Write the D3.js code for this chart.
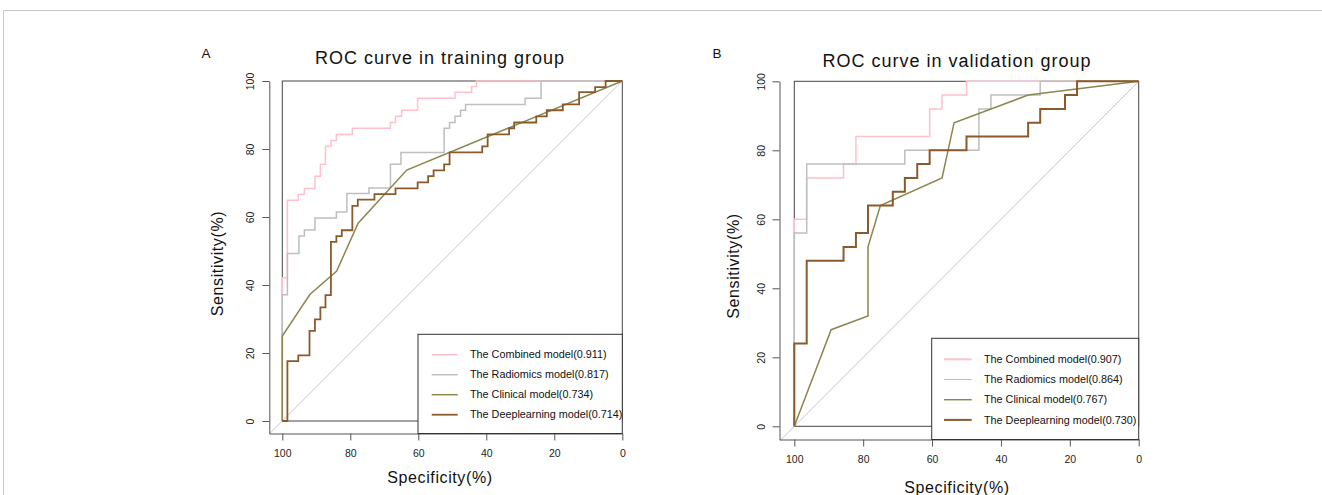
<!DOCTYPE html>
<html>
<head>
<meta charset="utf-8">
<script src="https://cdn.jsdelivr.net/npm/d3@7"></script>
<style>
  body { margin: 0; background: #fff; }
  svg { display: block; font-family: "Liberation Sans", Arial, sans-serif; }
</style>
</head>
<body>
<svg id="chart" width="1322" height="495"></svg>
<script>
// ticks shared by both panels
const specTicks = [100, 80, 60, 40, 20, 0];
const sensTicks = [0, 20, 40, 60, 80, 100];

const modelNames = ['The Combined model', 'The Radiomics model', 'The Clinical model', 'The Deeplearning model'];
const trainAuc = ['0.911', '0.817', '0.734', '0.714'];
const validAuc = ['0.907', '0.864', '0.767', '0.730'];

// training group, points are [specificity %, sensitivity %]
const trainCombined = [[100,0],[100,42.1],[98.5,42.1],[98.5,64.9],[95.3,64.9],[95.3,66.7],[93.5,66.7],[93.5,68.4],
  [90.4,68.4],[90.4,72.0],[88.8,72.0],[88.8,75.5],[87.3,75.5],[87.3,80.8],[85.7,80.8],[85.7,82.5],[84.1,82.5],
  [84.1,84.3],[79.4,84.3],[79.4,86.1],[68.2,86.1],[68.2,87.8],[66.7,87.8],[66.7,89.6],[64.9,89.6],[64.9,91.4],
  [60.2,91.4],[60.2,94.9],[49.2,94.9],[49.2,96.7],[44.3,96.7],[44.3,98.4],[42.9,98.4],[42.9,100],[0,100]];
const trainRadiomics = [[100,0],[100,37.1],[98.5,37.1],[98.5,49.3],[95.1,49.3],[95.1,54.4],[93.5,54.4],[93.5,56.2],
  [90.4,56.2],[90.4,59.7],[84.1,59.7],[84.1,61.5],[81.0,61.5],[81.0,66.9],[74.5,66.9],[74.5,68.5],[68.2,68.5],
  [68.2,75.5],[65.1,75.5],[65.1,79.0],[52.4,79.0],[52.4,86.1],[50.8,86.1],[50.8,87.8],[49.2,87.8],[49.2,89.6],
  [47.6,89.6],[47.6,91.4],[46.1,91.4],[46.1,93.1],[28.6,93.1],[28.6,94.9],[23.9,94.9],[23.9,100],[0,100]];
const trainClinical = [[100,0],[100,25.0],[91.9,37.2],[84.0,44.1],[77.7,58.2],[63.4,73.8],[0,100]];
const trainDeep = [[100,0],[98.5,0],[98.5,17.6],[95.3,17.6],[95.3,19.3],[92.0,19.3],[92.0,26.5],[90.4,26.5],
  [90.4,29.9],[88.8,29.9],[88.8,33.4],[87.3,33.4],[87.3,37.0],[85.7,37.0],[85.7,52.7],[84.1,52.7],[84.1,54.4],
  [82.5,54.4],[82.5,56.1],[79.4,56.1],[79.4,63.3],[77.8,63.3],[77.8,65.1],[72.9,65.1],[72.9,66.7],[66.7,66.7],
  [66.7,68.4],[60.2,68.4],[60.2,70.2],[57.1,70.2],[57.1,72.0],[55.5,72.0],[55.5,73.7],[52.4,73.7],[52.4,75.5],
  [50.8,75.5],[50.8,79.0],[41.2,79.0],[41.2,80.8],[39.6,80.8],[39.6,84.3],[33.3,84.3],[33.3,86.1],[31.8,86.1],
  [31.8,87.8],[25.3,87.8],[25.3,89.6],[22.2,89.6],[22.2,91.4],[17.5,91.4],[17.5,93.1],[12.7,93.1],[12.7,96.7],
  [8.0,96.7],[8.0,98.2],[4.9,98.2],[4.9,100],[0,100]];

// validation group
const validCombined = [[100,0],[100,60],[96.4,60],[96.4,72],[85.7,72],[85.7,76],[82.1,76],[82.1,84],[60.7,84],
  [60.7,92],[57.1,92],[57.1,96],[50,96],[50,100],[0,100]];
const validRadiomics = [[100,0],[100,56],[96.4,56],[96.4,76],[67.9,76],[67.9,80],[46.4,80],[46.4,92],[42.9,92],
  [42.9,96],[28.6,96],[28.6,100],[0,100]];
const validClinical = [[100,0],[89.3,28],[78.6,32],[78.6,52],[75,64],[57.1,72],[53.6,88],[32.1,96],[0,100]];
const validDeep = [[100,0],[100,24],[96.4,24],[96.4,48],[85.7,48],[85.7,52],[82.1,52],[82.1,56],[78.6,56],
  [78.6,64],[71.4,64],[71.4,68],[67.9,68],[67.9,72],[64.3,72],[64.3,76],[60.7,76],[60.7,80],[50,80],[50,84],
  [32.1,84],[32.1,88],[28.6,88],[28.6,92],[21.4,92],[21.4,96],[17.9,96],[17.9,100],[0,100]];

const modelColors = ['#ffc0cb', '#bebebe', '#8b864e', '#8b5a2b'];

class RocChart {

  constructor(_config, _curves, _auc) {
    this.config = _config;
    this.curves = _curves;
    this.auc = _auc;
    this.initVis();
  }

  initVis() {
    let vis = this;
    const c = vis.config;

    vis.svg = d3.select('#chart');
    vis.g = vis.svg.append('g');

    vis.xScale = d3.scaleLinear().domain([100, 0]).range([c.x0, c.x1]);
    vis.yScale = d3.scaleLinear().domain([0, 100]).range([c.y0, c.y1]);

    // axes start a little outside the unit square, like base R
    vis.xAxisScale = vis.xScale.copy().domain([vis.xScale.invert(c.axisX), 0]).range([c.axisX, c.x1]);
    vis.yAxisScale = vis.yScale.copy().domain([vis.yScale.invert(c.axisY), 100]).range([c.axisY, c.y1]);

    vis.renderVis();
  }

  renderVis() {
    let vis = this;
    const c = vis.config;

    // square around the data range
    vis.g.append('rect')
      .attr('x', vis.xScale(100))
      .attr('y', vis.yScale(100))
      .attr('width', vis.xScale(0) - vis.xScale(100))
      .attr('height', vis.yScale(0) - vis.yScale(100))
      .attr('fill', 'none')
      .attr('stroke', '#444')
      .attr('stroke-width', 1);

    // chance line
    const pad = vis.xScale.invert(c.axisX) - 100;
    vis.g.append('line')
      .attr('x1', vis.xScale(100 + pad)).attr('y1', vis.yScale(-pad))
      .attr('x2', vis.xScale(0)).attr('y2', vis.yScale(100))
      .attr('stroke', '#c8c8c8')
      .attr('stroke-width', 1);

    const line = d3.line()
      .x(d => vis.xScale(d[0]))
      .y(d => vis.yScale(d[1]));

    vis.g.selectAll('.roc')
      .data(vis.curves)
      .join('path')
      .attr('class', 'roc')
      .attr('d', line)
      .attr('fill', 'none')
      .attr('stroke', (d, i) => modelColors[i])
      .attr('stroke-width', (d, i) => c.widths[i]);

    // axes
    const xAxis = d3.axisBottom(vis.xAxisScale).tickValues(specTicks).tickSize(7).tickSizeOuter(0)
      .tickPadding(c.xTickBase - c.axisY - 7 - 7.5);
    const xg = vis.g.append('g')
      .attr('transform', `translate(0,${c.axisY})`)
      .call(xAxis);

    const yAxis = d3.axisLeft(vis.yAxisScale).tickValues(sensTicks).tickSize(7).tickSizeOuter(0);
    const yg = vis.g.append('g')
      .attr('transform', `translate(${c.axisX},0)`)
      .call(yAxis);
    yg.selectAll('.tick text')
      .attr('x', null).attr('dy', null)
      .attr('text-anchor', 'middle')
      .attr('transform', `translate(${c.yTickBase - c.axisX},0) rotate(-90)`);

    [xg, yg].forEach(ax => {
      ax.selectAll('.domain').attr('stroke', '#555');
      ax.selectAll('.tick line').attr('stroke', '#555');
      ax.selectAll('.tick text').attr('fill', '#222').attr('font-size', 10.5)
        .attr('font-family', '"Liberation Sans", Arial, sans-serif');
    });

    // titles
    vis.g.append('text')
      .attr('x', c.titleX).attr('y', c.titleY)
      .attr('text-anchor', 'middle')
      .attr('font-size', 18)
      .attr('letter-spacing', 1)
      .attr('fill', '#111')
      .text(c.title);

    vis.g.append('text')
      .attr('x', c.letterX).attr('y', c.letterY)
      .attr('font-size', 13.5)
      .attr('fill', '#111')
      .text(c.letter);

    vis.g.append('text')
      .attr('x', c.titleX).attr('y', c.xTitleY)
      .attr('text-anchor', 'middle')
      .attr('font-size', 16)
      .attr('letter-spacing', 0.6)
      .attr('fill', '#111')
      .text('Specificity(%)');

    vis.g.append('text')
      .attr('transform', `translate(${c.yTitleX},${c.yTitleY}) rotate(-90)`)
      .attr('text-anchor', 'middle')
      .attr('font-size', 16)
      .attr('letter-spacing', 0.6)
      .attr('fill', '#111')
      .text('Sensitivity(%)');

    // legend
    const lg = c.legend;
    vis.g.append('rect')
      .attr('x', lg.x).attr('y', lg.y)
      .attr('width', vis.xScale(0) - lg.x)
      .attr('height', c.axisY - lg.y)
      .attr('fill', '#fff')
      .attr('stroke', '#333')
      .attr('stroke-width', 1);

    const items = vis.g.selectAll('.legend-item')
      .data(modelNames)
      .join('g')
      .attr('class', 'legend-item')
      .attr('transform', (d, i) => `translate(0,${lg.top + i * lg.step})`);

    items.append('line')
      .attr('x1', lg.lineX0).attr('x2', lg.lineX1)
      .attr('stroke', (d, i) => modelColors[i])
      .attr('stroke-width', (d, i) => lg.widths[i]);

    items.append('text')
      .attr('x', lg.textX)
      .attr('dy', '0.35em')
      .attr('font-size', 10.8)
      .attr('fill', '#111')
      .text((d, i) => `${d}(${vis.auc[i]})`);
  }
}

// page frame
d3.select('#chart').append('path')
  .attr('d', 'M3.5,495 V10.5 H1322')
  .attr('fill', 'none')
  .attr('stroke', '#c8c8c8');

new RocChart({
  x0: 282.3, x1: 622.3, y0: 421, y1: 81,
  axisX: 269.3, axisY: 433.5,
  xTickBase: 457.3, yTickBase: 254,
  title: 'ROC curve in training group', titleX: 440, titleY: 64.3,
  letter: 'A', letterX: 201.5, letterY: 58.3,
  xTitleY: 483.3, yTitleX: 223, yTitleY: 263.5,
  widths: [1.5, 1.5, 1.5, 1.8],
  legend: { x: 418, y: 334.3, lineX0: 431.7, lineX1: 457.7, textX: 470, top: 354.7, step: 20, widths: [1.5, 1.5, 1.5, 1.8] }
}, [trainCombined, trainRadiomics, trainClinical, trainDeep], trainAuc);

new RocChart({
  x0: 794.3, x1: 1138.7, y0: 426.3, y1: 81.3,
  axisX: 779.5, axisY: 439.5,
  xTickBase: 463.3, yTickBase: 765,
  title: 'ROC curve in validation group', titleX: 957, titleY: 67.3,
  letter: 'B', letterX: 712.5, letterY: 57.5,
  xTitleY: 492.5, yTitleX: 739.3, yTitleY: 266,
  widths: [1.5, 1.5, 1.5, 2],
  legend: { x: 931.7, y: 338.3, lineX0: 944, lineX1: 971.7, textX: 984, top: 359.3, step: 20.2, widths: [2, 1, 1.5, 2] }
}, [validCombined, validRadiomics, validClinical, validDeep], validAuc);
</script>
</body>
</html>
